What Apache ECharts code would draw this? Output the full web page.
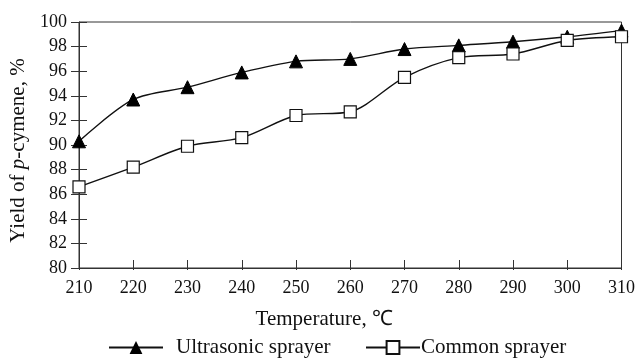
<!DOCTYPE html>
<html>
<head>
<meta charset="utf-8">
<script src="https://cdn.jsdelivr.net/npm/echarts@6/dist/echarts.min.js"></script>
<style>
  html, body { margin: 0; padding: 0; background: #fff; }
  #chart { width: 638px; height: 358px; }
</style>
</head>
<body>
<div id="chart"></div>
<script>
// data
const temps = [210, 220, 230, 240, 250, 260, 270, 280, 290, 300, 310]
const ultrasonic = [90.3, 93.7, 94.7, 95.9, 96.8, 97.0, 97.8, 98.1, 98.4, 98.8, 99.3]
const common = [86.6, 88.2, 89.9, 90.6, 92.4, 92.7, 95.5, 97.1, 97.4, 98.5, 98.8]

const font = 'Liberation Serif'
const axisColor = '#333'

const chart = echarts.init(document.getElementById('chart'))

// 轴刻度是十字形的，用两组叠加的轴来画
const option = {
  animation: false,
  textStyle: { fontFamily: font },
  grid: {
    left: 79, right: 16, top: 22, bottom: 90,
    show: true, borderColor: axisColor, borderWidth: 1
  },
  legend: [
    {
      data: ['Ultrasonic sprayer'],
      left: 108, top: 337, padding: 0,
      itemWidth: 54, itemHeight: 16,
      textStyle: { fontFamily: font, fontSize: 21, color: '#111', padding: [0, 0, 0, 8] }
    },
    {
      data: ['Common sprayer'],
      left: 365, top: 337, padding: 0,
      itemWidth: 54, itemHeight: 16,
      textStyle: { fontFamily: font, fontSize: 21, color: '#111', padding: [0, 0, 0, -4] }
    }
  ],
  xAxis: [
    {
      type: 'value', min: 210, max: 310, interval: 10,
      name: 'Temperature, ℃', nameLocation: 'middle', nameGap: 41,
      nameTextStyle: { fontFamily: font, fontSize: 21, color: '#111', padding: [0, 52, 0, 0] },
      axisLine: { lineStyle: { color: axisColor } },
      axisTick: { length: 2, lineStyle: { color: axisColor } },
      axisLabel: { fontFamily: font, fontSize: 18, color: '#111', margin: 11 },
      splitLine: { show: false }
    },
    {
      type: 'value', min: 210, max: 310, interval: 10, position: 'bottom',
      axisLine: { show: false },
      axisTick: { inside: true, length: 8, lineStyle: { color: axisColor } },
      axisLabel: { show: false },
      splitLine: { show: false }
    }
  ],
  yAxis: [
    {
      type: 'value', min: 80, max: 100, interval: 2,
      name: 'Yield of {i|p}-cymene, %', nameLocation: 'middle', nameGap: 45,
      nameTextStyle: {
        fontFamily: font, fontSize: 21, color: '#111', padding: [0, 11, 0, 0],
        rich: { i: { fontFamily: font, fontSize: 21, fontStyle: 'italic', color: '#111' } }
      },
      axisLine: { lineStyle: { color: axisColor } },
      axisTick: { length: 8, lineStyle: { color: axisColor } },
      axisLabel: { fontFamily: font, fontSize: 18, color: '#111', margin: 12 },
      splitLine: { show: false }
    },
    {
      type: 'value', min: 80, max: 100, interval: 2, position: 'left',
      axisLine: { show: false },
      axisTick: { inside: true, length: 8, lineStyle: { color: axisColor } },
      axisLabel: { show: false },
      splitLine: { show: false }
    }
  ],
  series: [
    {
      name: 'Ultrasonic sprayer',
      type: 'line',
      smooth: 0.3,
      symbol: 'triangle', symbolSize: 13,
      data: temps.map((t, i) => [t, ultrasonic[i]]),
      lineStyle: { color: '#111', width: 1.4 },
      itemStyle: { color: '#000', borderColor: '#000' },
      z: 2
    },
    {
      name: 'Common sprayer',
      type: 'line',
      smooth: 0.3,
      symbol: 'rect', symbolSize: 12,
      data: temps.map((t, i) => [t, common[i]]),
      lineStyle: { color: '#111', width: 1.4 },
      itemStyle: { color: '#fff', borderColor: '#111', borderWidth: 1.2 },
      z: 3
    }
  ]
}

chart.setOption(option)
</script>
</body>
</html>
